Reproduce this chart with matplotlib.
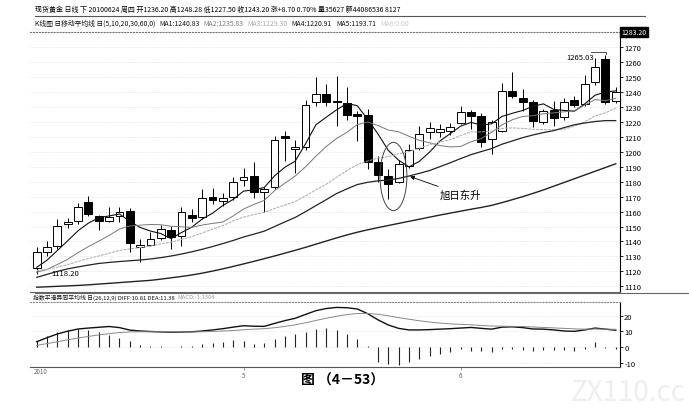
import numpy as np
import matplotlib.pyplot as plt
from matplotlib.patches import Rectangle, Ellipse

plt.rcParams['font.family'] = ['Noto Sans CJK SC', 'DejaVu Sans']

# 日K线数据 (开, 高, 低, 收)
opens = [1122, 1133.2, 1136.8, 1151.5, 1153.5, 1166.3, 1157.3, 1153.7, 1156.9, 1160.6,
         1136.1, 1137.7, 1142.4, 1147.9, 1143.9, 1157.7, 1156.2, 1170, 1167.3, 1169.6,
         1181.2, 1183.7, 1173, 1176.3, 1210.5, 1202, 1203, 1233.2, 1238.8, 1234.2,
         1232.5, 1225.4, 1224.7, 1193, 1184, 1180, 1190.8, 1202.6, 1213.5, 1213.5,
         1214.2, 1219.3, 1226.5, 1224.2, 1208.6, 1214.2, 1241, 1235.9, 1233.2, 1219.8,
         1228, 1223.2, 1235, 1232, 1246.6, 1262.2, 1234.3]
highs = [1136, 1140, 1155, 1156, 1166, 1170.7, 1158, 1163, 1163.3, 1162.5,
         1141.7, 1146.4, 1151, 1150.2, 1163, 1161.8, 1175.2, 1175.6, 1172.5, 1183,
         1189, 1193, 1176.5, 1210.8, 1214, 1208, 1234.7, 1250, 1245.4, 1250.6,
         1243.4, 1227, 1229, 1197, 1188.5, 1194.5, 1205, 1217.5, 1219.8, 1218.5,
         1219.5, 1231, 1228, 1226, 1221.5, 1246, 1253.3, 1242, 1234.5, 1229,
         1234.3, 1236, 1237.5, 1251.5, 1262.6, 1265.03, 1243.2]
lows = [1118.2, 1130, 1135, 1149, 1152, 1157, 1148, 1152.8, 1153.3, 1132.8,
        1126.5, 1136.8, 1141, 1135, 1137, 1153.3, 1155, 1165, 1164, 1168,
        1177.4, 1169, 1159.6, 1175, 1194, 1186, 1201.5, 1231, 1231, 1217.5,
        1221, 1207.5, 1188.5, 1180, 1168.5, 1179, 1189, 1201.5, 1208.6, 1210,
        1211.5, 1218.5, 1215.3, 1203, 1198.6, 1213, 1236, 1227.6, 1216.5, 1218.5,
        1217.5, 1221, 1230, 1230.5, 1244.5, 1232, 1232.5]
closes = [1133, 1136, 1150.6, 1153.3, 1163.3, 1158.4, 1153.7, 1156.6, 1160, 1138.8,
          1137.7, 1141.7, 1148.4, 1142.8, 1159.6, 1155.5, 1168.9, 1167.8, 1168.9, 1180,
          1183, 1173.4, 1175.2, 1208, 1209, 1203.5, 1231.4, 1238.8, 1233.2, 1233.6,
          1224.7, 1223.8, 1193.4, 1184.5, 1178.5, 1191.9, 1201.3, 1212, 1215.8, 1215.3,
          1216.5, 1226.5, 1224.2, 1206.8, 1219.8, 1241, 1237.2, 1233.6, 1220.9, 1227.6,
          1222.7, 1233.6, 1231.4, 1245.4, 1256.6, 1233.2, 1240]

# 均线 MA1(5) MA2(10) MA3(20) MA4(30) MA5(60)
ma1 = [1122.7, 1127.5, 1134, 1140.5, 1147.2, 1152.3, 1155.9, 1157.1, 1158.4, 1153.5,
       1149.4, 1147.0, 1145.3, 1141.9, 1146.0, 1149.6, 1155.0, 1158.9, 1164.1, 1168.2,
       1173.7, 1174.6, 1176.1, 1183.9, 1189.7, 1193.8, 1205.4, 1218.1, 1223.2, 1228.1,
       1232.4, 1230.9, 1221.8, 1212.0, 1201.0, 1194.4, 1189.9, 1193.6, 1199.9, 1207.3,
       1212.2, 1217.2, 1219.7, 1217.9, 1218.8, 1223.7, 1225.8, 1227.7, 1230.5, 1232.1,
       1228.4, 1227.7, 1227.2, 1232.1, 1237.9, 1240.0, 1240.8]
ma2 = [1119.5, 1121.3, 1124.6, 1128.1, 1132.6, 1136.6, 1140.2, 1144.1, 1148.3, 1150.4,
       1150.9, 1151.4, 1151.2, 1150.2, 1149.8, 1149.5, 1151.0, 1152.1, 1153.0, 1157.1,
       1161.7, 1164.8, 1167.5, 1174.0, 1179.0, 1183.8, 1190.0, 1197.1, 1203.6, 1208.9,
       1213.1, 1218.2, 1220.0, 1217.6, 1214.6, 1213.4, 1210.4, 1207.7, 1206.0, 1204.2,
       1203.3, 1203.6, 1206.7, 1208.9, 1213.1, 1218.0, 1221.5, 1223.7, 1224.2, 1225.5,
       1226.1, 1226.8, 1227.5, 1231.3, 1235.0, 1234.2, 1235.8]
ma3 = [1120.5, 1121.3, 1122.8, 1124.5, 1126.7, 1128.6, 1130.3, 1132.1, 1134.1, 1135.0,
       1135.9, 1137.0, 1138.4, 1139.5, 1141.5, 1143.3, 1145.7, 1148.2, 1150.7, 1153.8,
       1156.3, 1158.1, 1159.4, 1162.1, 1164.4, 1166.7, 1170.5, 1174.6, 1178.3, 1183.0,
       1187.4, 1191.5, 1193.8, 1195.8, 1196.8, 1198.6, 1200.2, 1202.4, 1204.8, 1206.6,
       1208.2, 1210.9, 1213.4, 1213.3, 1213.9, 1215.7, 1216.0, 1215.7, 1215.1, 1214.9,
       1214.7, 1215.2, 1217.1, 1220.1, 1224.1, 1226.1, 1229.3]
ma4 = [1116, 1118, 1120, 1121.7, 1123, 1124.2, 1125.3, 1126, 1126.6, 1127.1,
       1127.6, 1128.3, 1129.2, 1130.3, 1131.6, 1133.1, 1134.8, 1136.6, 1138.6, 1140.7,
       1143, 1144.9, 1146.9, 1150, 1153.1, 1156.1, 1160, 1164, 1168, 1172.1,
       1175.2, 1178.1, 1179.6, 1180.6, 1181.1, 1182.2, 1183.8, 1185.6, 1187.5, 1190.1,
       1192.7, 1195.5, 1198.1, 1200.2, 1202.2, 1205.1, 1207.3, 1209.5, 1211.3, 1212.9,
       1214.2, 1216.2, 1218.1, 1219.3, 1220.3, 1220.9, 1220.9]
ma5 = [1109.4, 1109.7, 1110.0, 1110.3, 1110.6, 1111.0, 1111.5, 1112.0, 1112.5, 1113.0,
       1113.5, 1114.0, 1114.8, 1115.7, 1116.6, 1117.6, 1118.8, 1120.2, 1121.7, 1123.3,
       1125.0, 1126.7, 1128.5, 1130.3, 1132.2, 1134.1, 1136.1, 1138.2, 1140.3, 1142.4,
       1144.4, 1146.2, 1147.8, 1149.3, 1150.7, 1152.1, 1153.5, 1154.9, 1156.3, 1157.7,
       1159.0, 1160.3, 1161.6, 1162.8, 1164.2, 1166.0, 1168.0, 1170.0, 1172.2, 1174.5,
       1177.0, 1179.5, 1182.0, 1184.5, 1187.0, 1189.5, 1192.0]

# MACD(26,12,9)
diff = [3.4, 6, 8.4, 10.2, 11.6, 12.2, 12.7, 13.2, 12.5, 10.9,
        10.3, 10.0, 9.7, 9.5, 9.6, 9.8, 10.3, 11, 11.8, 12.8,
        13.7, 13.4, 13.3, 15.2, 17, 18.5, 21, 23.4, 24.8, 25.5,
        25.3, 24.5, 21.5, 17.5, 14.2, 12.0, 11.0, 11.0, 11.2, 11.5,
        11.8, 12.2, 12.6, 12.0, 11.5, 12.8, 13.0, 12.5, 11.6, 11.5,
        11.0, 10.3, 10.1, 11.0, 12.2, 11.5, 10.81]
dea = [1.0, 2.2, 3.4, 4.6, 5.8, 6.8, 7.8, 8.6, 9.3, 9.7,
       9.8, 9.8, 9.8, 9.75, 9.7, 9.7, 9.8, 10.0, 10.3, 10.6,
       11.1, 11.5, 11.8, 12.4, 13.3, 14.3, 15.6, 17.1, 18.5, 19.8,
       20.9, 21.6, 21.6, 21.1, 20.1, 18.9, 17.9, 16.9, 16.1, 15.4,
       14.9, 14.6, 14.3, 13.9, 13.5, 13.4, 13.3, 13.2, 12.9, 12.6,
       12.3, 12.0, 11.7, 11.5, 11.6, 11.5, 11.38]
macd = [3.9, 6.9, 9.7, 11.2, 11.8, 11.2, 9.7, 7.5, 6, 3.9,
        1, 0.5, 0.5, 0.3, 0.5, 0.8, 2.1, 2.6, 3.2, 4.3,
        3.9, 2.1, 2.6, 5.4, 6.9, 8.6, 9.7, 11.8, 12.5, 11,
        8.5, 5.2, 0.5, -9.9, -11, -11.6, -9.9, -7.7, -5.6, -4.5,
        -3.4, -1.3, -2.4, -2.4, -3, -1, -1.3, -1.7, -2.4, -2,
        -1.7, -1.7, -2.4, -1, 3, -0.8, -1.13]

price_ticks = list(range(1110, 1280, 10))
macd_ticks = [-10, 0, 10, 20]

W, H = 689, 414
fig = plt.figure(figsize=(W / 100, H / 100), dpi=100)
renderer = fig.canvas.get_renderer()


def px_axes(x0, y0, x1, y1):
    return fig.add_axes([x0 / W, 1 - y1 / H, (x1 - x0) / W, (y1 - y0) / H])


def ftext(x, y, s, **kw):
    return fig.text(x / W, 1 - y / H, s, va='center', **kw)


def seq_text(x, y, parts, size, gap=3):
    # 依次排列几段文字，不让它们重叠
    for s, col in parts:
        t = ftext(x, y, s, fontsize=size, color=col)
        x = t.get_window_extent(renderer).x1 + gap


n = len(closes)
xs = np.arange(n)
xlim = (-0.65, 56.41)

# ---- K线图 ----
ax = px_axes(30, 33, 620, 293)
ax.set_xlim(*xlim)
ax.set_ylim(1106.2, 1280.2)
for i in range(n):
    o, h, l, c = opens[i], highs[i], lows[i], closes[i]
    ax.vlines(i, l, h, color='black', lw=0.7, zorder=2)
    up = c >= o
    bot = min(o, c)
    hgt = max(abs(c - o), 0.7)
    ax.add_patch(Rectangle((i - 0.38, bot), 0.76, hgt,
                           facecolor='white' if up else 'black',
                           edgecolor='black', lw=0.7, zorder=3))

ax.plot(xs, ma1, color='#111111', lw=0.8, zorder=4)
ax.plot(xs, ma2, color='#777777', lw=0.7, zorder=4)
ax.plot(xs, ma3, color='#aaaaaa', lw=0.7, ls=(0, (3, 1)), zorder=4)
ax.plot(xs, ma4, color='#222222', lw=0.9, zorder=4)
ax.plot(xs, ma5, color='#222222', lw=1.0, zorder=4)

ax.yaxis.tick_right()
ax.set_yticks(price_ticks)
ax.set_yticklabels([str(t) for t in price_ticks])
ax.tick_params(axis='y', labelsize=5.5, length=2, pad=1, width=0.6)
ax.set_xticks([])
ax.grid(axis='y', color='#d5d5d5', ls=':', lw=0.5)
ax.spines['left'].set_visible(False)
ax.spines['top'].set_linestyle(':')
ax.spines['top'].set_color('#777777')
ax.spines['bottom'].set_color('#666666')
ax.spines['right'].set_linewidth(0.8)

# 标注
ax.text(1.4, lows[0] + 0.5, '1118.20', fontsize=5.5, va='center', ha='left', zorder=5)
ax.text(51.2, 1263.4, '1265.03', fontsize=5.5, va='center', ha='left', zorder=5)
ax.plot([53.6, 55.1, 55.1], [1266.7, 1266.7, 1265.2], color='#333333', lw=0.6)
ax.add_patch(Ellipse((34.5, 1183.5), 2.6, 45.7, fill=False, edgecolor='#444444', lw=0.7, zorder=5))
ax.annotate('旭日东升', xy=(36.1, 1183.5), xytext=(39.0, 1171.5), fontsize=7.5,
            va='center', ha='left',
            arrowprops=dict(arrowstyle='-|>', color='black', lw=0.6, mutation_scale=6,
                            shrinkA=0, shrinkB=0))

# 顶部最高价框
ftext(634, 33, '1283.20', fontsize=5, color='white', ha='center',
      bbox=dict(boxstyle='square,pad=0.15', fc='black', ec='black'))

# ---- MACD ----
ax2 = px_axes(30, 303, 620, 368)
ax2.set_xlim(*xlim)
ax2.set_ylim(-12.9, 29)
ax2.vlines(xs, 0, macd, color='#222222', lw=0.8)
ax2.plot(xs, diff, color='#111111', lw=1.0)
ax2.plot(xs, dea, color='#888888', lw=0.7)
ax2.yaxis.tick_right()
ax2.set_yticks(macd_ticks)
ax2.set_yticklabels([str(t) for t in macd_ticks])
ax2.tick_params(axis='y', labelsize=5.5, length=2, pad=1, width=0.6)
ax2.set_xticks([20, 41])
ax2.set_xticklabels(['5', '6'])
ax2.tick_params(axis='x', labelsize=4.5, length=2, pad=1, width=0.5, colors='#666666')
ax2.grid(axis='y', color='#dddddd', ls=':', lw=0.5)
ax2.spines['left'].set_visible(False)
ax2.spines['top'].set_linestyle(':')
ax2.spines['top'].set_color('#888888')
ax2.spines['bottom'].set_color('#555555')
ax2.spines['right'].set_linewidth(0.8)
ax2.text(-0.3, -15.5, '2010', fontsize=4.5, color='#666666', va='center')

# ---- 标题文字 ----
ftext(35, 10, '现货黄金 日线 下 20100624 周四 开1236.20 高1248.28 低1227.50 收1243.20 '
      '涨+8.70 0.70% 量35627 额44086536 8127', fontsize=5.0)
fig.add_artist(plt.Line2D([35 / W, 645 / W], [1 - 17 / H] * 2, color='#555555', lw=0.8))
seq_text(35, 24, [('K线图 日移动平均线 日(5,10,20,30,60,0)', '#111111'),
                  ('MA1:1240.83', '#111111'),
                  ('MA2:1235.83', '#777777'),
                  ('MA3:1229.30', '#aaaaaa'),
                  ('MA4:1220.91', '#111111'),
                  ('MA5:1193.71', '#111111'),
                  ('MA6:0.00', '#cccccc')], 4.9, gap=4)
fig.add_artist(plt.Line2D([35 / W, 689 / W], [1 - 294 / H] * 2, color='#666666', lw=0.8))
seq_text(33, 298, [('指数平滑异同平均线 日(26,12,9) DIFF:10.81 DEA:11.38', '#111111'),
                   ('MACD:-1.1304', '#999999')], 4.2, gap=3)

ftext(343, 381, '图 （4－53）', fontsize=10, fontweight='bold', ha='center')
ftext(628, 393, 'ZX110.cc', fontsize=20, color='#eeeeee', ha='center')

fig.savefig('out.png', dpi=100)
